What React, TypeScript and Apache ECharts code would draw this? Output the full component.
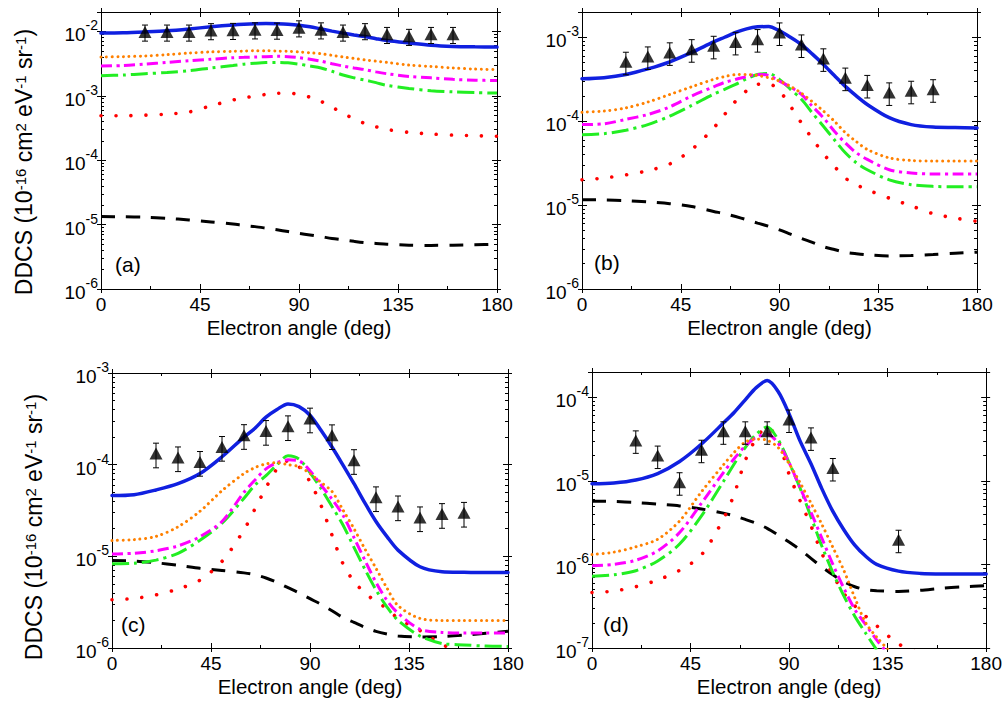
import React, { useEffect, useRef } from 'react';
import * as echarts from 'echarts';

// ---------------- data ----------------
const ANGLES = [0, 10, 20, 30, 40, 50, 60, 65, 70, 75, 80, 85, 90, 95, 100, 105, 110, 115, 120, 125, 130, 140, 150, 160, 170, 180];
const EXP_ANGLES = [20, 30, 40, 50, 60, 70, 80, 90, 100, 110, 120, 130, 140, 150, 160];
const EXP_ANGLES_D = [20, 30, 40, 50, 60, 70, 80, 90, 100, 110, 140];
const X_TICKS = [0, 45, 90, 135, 180];

// panel (a)
const A_SOLID = [9.4e-3, 9.5e-3, 9.8e-3, 1.02e-2, 1.09e-2, 1.18e-2, 1.26e-2, 1.29e-2, 1.31e-2, 1.32e-2, 1.31e-2, 1.29e-2, 1.25e-2, 1.18e-2, 1.09e-2, 1.01e-2, 9.4e-3, 8.8e-3, 8.3e-3, 7.7e-3, 7.2e-3, 6.6e-3, 6.1e-3, 5.85e-3, 5.75e-3, 5.7e-3];
const A_ORANGE = [4.0e-3, 4.05e-3, 4.15e-3, 4.35e-3, 4.6e-3, 4.8e-3, 4.9e-3, 4.95e-3, 5.0e-3, 5.0e-3, 4.95e-3, 4.9e-3, 4.8e-3, 4.65e-3, 4.5e-3, 4.25e-3, 4.0e-3, 3.8e-3, 3.6e-3, 3.45e-3, 3.3e-3, 3.0e-3, 2.85e-3, 2.7e-3, 2.6e-3, 2.55e-3];
const A_MAGENTA = [2.9e-3, 2.95e-3, 3.1e-3, 3.3e-3, 3.5e-3, 3.7e-3, 3.9e-3, 3.95e-3, 4.0e-3, 4.05e-3, 4.1e-3, 4.05e-3, 3.9e-3, 3.7e-3, 3.45e-3, 3.15e-3, 2.9e-3, 2.7e-3, 2.55e-3, 2.35e-3, 2.2e-3, 2.0e-3, 1.9e-3, 1.8e-3, 1.75e-3, 1.72e-3];
const A_GREEN = [2.05e-3, 2.1e-3, 2.2e-3, 2.3e-3, 2.45e-3, 2.7e-3, 2.95e-3, 3.1e-3, 3.2e-3, 3.28e-3, 3.3e-3, 3.25e-3, 3.1e-3, 2.9e-3, 2.7e-3, 2.4e-3, 2.1e-3, 1.9e-3, 1.75e-3, 1.6e-3, 1.45e-3, 1.3e-3, 1.2e-3, 1.15e-3, 1.12e-3, 1.1e-3];
const A_RED = [4.9e-4, 4.9e-4, 5.0e-4, 5.2e-4, 5.6e-4, 7.0e-4, 8.6e-4, 9.3e-4, 9.9e-4, 1.05e-3, 1.09e-3, 1.1e-3, 1.05e-3, 9.5e-4, 8.2e-4, 6.7e-4, 5.3e-4, 4.4e-4, 3.7e-4, 3.3e-4, 3.0e-4, 2.7e-4, 2.55e-4, 2.45e-4, 2.4e-4, 2.35e-4];
const A_BLACK = [1.33e-5, 1.32e-5, 1.3e-5, 1.25e-5, 1.18e-5, 1.1e-5, 1.02e-5, 9.7e-6, 9.3e-6, 8.8e-6, 8.3e-6, 7.8e-6, 7.3e-6, 6.9e-6, 6.5e-6, 6.1e-6, 5.8e-6, 5.5e-6, 5.25e-6, 5.1e-6, 4.95e-6, 4.8e-6, 4.75e-6, 4.8e-6, 4.85e-6, 4.95e-6];
const A_EXP = [9.8e-3, 9.8e-3, 9.8e-3, 1.03e-2, 1.04e-2, 1.06e-2, 1.05e-2, 1.14e-2, 1.06e-2, 9.8e-3, 1.03e-2, 9.0e-3, 8.4e-3, 9.0e-3, 9.0e-3];

// panel (b)
const B_SOLID = [3.2e-4, 3.3e-4, 3.6e-4, 4.2e-4, 5.1e-4, 6.6e-4, 8.8e-4, 1.0e-3, 1.14e-3, 1.26e-3, 1.33e-3, 1.34e-3, 1.19e-3, 1.0e-3, 8.2e-4, 6.3e-4, 4.75e-4, 3.5e-4, 2.6e-4, 2.0e-4, 1.58e-4, 1.1e-4, 9.1e-5, 8.5e-5, 8.4e-5, 8.3e-5];
const B_ORANGE = [1.28e-4, 1.32e-4, 1.44e-4, 1.69e-4, 2.08e-4, 2.57e-4, 3.15e-4, 3.4e-4, 3.58e-4, 3.6e-4, 3.5e-4, 3.3e-4, 3.0e-4, 2.6e-4, 2.15e-4, 1.7e-4, 1.32e-4, 1.0e-4, 7.3e-5, 5.7e-5, 4.6e-5, 3.65e-5, 3.4e-5, 3.35e-5, 3.35e-5, 3.35e-5];
const B_MAGENTA = [9.1e-5, 9.3e-5, 1.05e-4, 1.2e-4, 1.48e-4, 2.0e-4, 2.57e-4, 2.9e-4, 3.15e-4, 3.4e-4, 3.6e-4, 3.5e-4, 3.0e-4, 2.55e-4, 2.08e-4, 1.5e-4, 1.1e-4, 7.6e-5, 5.5e-5, 4.2e-5, 3.5e-5, 2.64e-5, 2.41e-5, 2.35e-5, 2.35e-5, 2.35e-5];
const B_GREEN = [6.9e-5, 7.1e-5, 7.8e-5, 9.1e-5, 1.15e-4, 1.54e-4, 2.1e-4, 2.4e-4, 2.74e-4, 3.2e-4, 3.6e-4, 3.7e-4, 3.15e-4, 2.4e-4, 1.82e-4, 1.25e-4, 8.7e-5, 6.0e-5, 4.2e-5, 3.2e-5, 2.64e-5, 2.0e-5, 1.75e-5, 1.67e-5, 1.65e-5, 1.65e-5];
const B_RED = [2.0e-5, 2.1e-5, 2.29e-5, 2.57e-5, 3.09e-5, 4.6e-5, 8.3e-5, 1.2e-4, 1.73e-4, 2.3e-4, 2.74e-4, 2.8e-4, 2.29e-4, 1.51e-4, 9.5e-5, 6.15e-5, 4.1e-5, 2.9e-5, 2.1e-5, 1.75e-5, 1.52e-5, 1.21e-5, 9.8e-6, 7.9e-6, 7.0e-6, 6.4e-6];
const B_BLACK = [1.16e-5, 1.15e-5, 1.13e-5, 1.09e-5, 1.04e-5, 9.6e-6, 8.4e-6, 7.9e-6, 7.3e-6, 6.7e-6, 6.1e-6, 5.6e-6, 5.07e-6, 4.5e-6, 4.0e-6, 3.6e-6, 3.2e-6, 2.95e-6, 2.74e-6, 2.63e-6, 2.55e-6, 2.48e-6, 2.5e-6, 2.57e-6, 2.67e-6, 2.74e-6];
const B_EXP = [5.1e-4, 5.9e-4, 6.6e-4, 7.2e-4, 7.9e-4, 8.8e-4, 9.5e-4, 1.14e-3, 8.2e-4, 5.6e-4, 3.3e-4, 2.7e-4, 2.2e-4, 2.3e-4, 2.4e-4];

// panel (c)
const C_SOLID = [4.6e-5, 4.7e-5, 5.3e-5, 6.2e-5, 8.0e-5, 1.22e-4, 2.0e-4, 2.5e-4, 3.3e-4, 4.0e-4, 4.6e-4, 4.3e-4, 3.46e-4, 2.37e-4, 1.56e-4, 9.9e-5, 6.2e-5, 3.8e-5, 2.4e-5, 1.64e-5, 1.17e-5, 7.7e-6, 6.8e-6, 6.7e-6, 6.65e-6, 6.65e-6];
const C_ORANGE = [1.49e-5, 1.52e-5, 1.65e-5, 2.1e-5, 3.1e-5, 5.2e-5, 8.0e-5, 9.3e-5, 1.02e-4, 1.05e-4, 1.0e-4, 9.5e-5, 8.0e-5, 6.4e-5, 5.1e-5, 3.2e-5, 2.0e-5, 1.2e-5, 7.4e-6, 4.5e-6, 2.9e-6, 2.1e-6, 2.0e-6, 2.0e-6, 2.0e-6, 2.0e-6];
const C_MAGENTA = [1.06e-5, 1.08e-5, 1.15e-5, 1.3e-5, 1.64e-5, 2.4e-5, 5.0e-5, 6.8e-5, 9.0e-5, 1.05e-4, 1.13e-4, 1.1e-4, 8.6e-5, 6.0e-5, 4.2e-5, 2.8e-5, 1.6e-5, 9.0e-6, 5.2e-6, 3.3e-6, 2.4e-6, 1.6e-6, 1.48e-6, 1.46e-6, 1.46e-6, 1.46e-6];
const C_GREEN = [8.3e-6, 8.4e-6, 9.1e-6, 1.08e-5, 1.5e-5, 2.3e-5, 4.3e-5, 6.0e-5, 7.6e-5, 1.0e-4, 1.25e-4, 1.15e-4, 8.2e-5, 5.5e-5, 3.5e-5, 2.2e-5, 1.25e-5, 7.2e-6, 4.3e-6, 2.8e-6, 2.0e-6, 1.35e-6, 1.12e-6, 1.08e-6, 1.05e-6, 1.04e-6];
const C_RED = [3.36e-6, 3.47e-6, 3.8e-6, 4.4e-6, 5.5e-6, 8.8e-6, 1.94e-5, 3.3e-5, 5.6e-5, 9.0e-5, 1.1e-4, 9.5e-5, 6.5e-5, 3.6e-5, 1.7e-5, 8.3e-6, 5.3e-6, 4.0e-6, 3.2e-6, 2.7e-6, 2.1e-6, 1.55e-6, 1.1e-6, 8.5e-7, 7.5e-7, 7.0e-7];
const C_BLACK = [9.0e-6, 8.9e-6, 8.5e-6, 8.0e-6, 7.4e-6, 7.0e-6, 6.6e-6, 6.3e-6, 5.8e-6, 5.2e-6, 4.55e-6, 4.0e-6, 3.45e-6, 3.0e-6, 2.55e-6, 2.15e-6, 1.9e-6, 1.68e-6, 1.52e-6, 1.42e-6, 1.35e-6, 1.32e-6, 1.33e-6, 1.38e-6, 1.45e-6, 1.52e-6];
const C_EXP = [1.32e-4, 1.2e-4, 1.07e-4, 1.56e-4, 2.1e-4, 2.33e-4, 2.62e-4, 3.18e-4, 2.09e-4, 1.12e-4, 4.4e-5, 3.5e-5, 2.66e-5, 2.89e-5, 2.98e-5];

// panel (d)
const D_SOLID = [9.2e-6, 9.4e-6, 1.02e-5, 1.22e-5, 1.7e-5, 2.75e-5, 4.9e-5, 6.6e-5, 9.3e-5, 1.3e-4, 1.58e-4, 1.17e-4, 6.3e-5, 3.0e-5, 1.6e-5, 8.0e-6, 4.3e-6, 2.6e-6, 1.7e-6, 1.25e-6, 1.0e-6, 8.3e-7, 7.8e-7, 7.7e-7, 7.7e-7, 7.7e-7];
const D_ORANGE = [1.31e-6, 1.4e-6, 1.62e-6, 2.0e-6, 3.3e-6, 7.4e-6, 1.55e-5, 2.2e-5, 2.9e-5, 3.15e-5, 3.05e-5, 2.5e-5, 1.6e-5, 9.5e-6, 5.4e-6, 3.0e-6, 1.6e-6, 8.5e-7, 4.0e-7, 2.0e-7, 1.35e-7, 7e-8, null, null, null, null];
const D_MAGENTA = [9.6e-7, 1.0e-6, 1.12e-6, 1.45e-6, 2.4e-6, 5.4e-6, 1.25e-5, 1.85e-5, 2.6e-5, 3.3e-5, 3.6e-5, 2.8e-5, 1.65e-5, 8.3e-6, 4.2e-6, 2.05e-6, 1.0e-6, 5.2e-7, 2.9e-7, 1.9e-7, 1.25e-7, 6e-8, null, null, null, null];
const D_GREEN = [7.2e-7, 7.5e-7, 8.4e-7, 1.1e-6, 1.75e-6, 3.8e-6, 9.8e-6, 1.6e-5, 2.5e-5, 3.6e-5, 4.4e-5, 3.1e-5, 1.65e-5, 8.2e-6, 3.7e-6, 1.65e-6, 8.0e-7, 4.2e-7, 2.4e-7, 1.5e-7, 9.5e-8, null, null, null, null, null];
const D_RED = [4.6e-7, 4.8e-7, 5.4e-7, 6.5e-7, 8.5e-7, 1.3e-6, 3.5e-6, 7.0e-6, 1.75e-5, 3.2e-5, 4.4e-5, 3.0e-5, 1.2e-5, 5.8e-6, 2.9e-6, 1.35e-6, 7.5e-7, 4.5e-7, 3.2e-7, 2.4e-7, 1.85e-7, 1.12e-7, 8.5e-8, null, null, null];
const D_BLACK = [5.7e-6, 5.65e-6, 5.5e-6, 5.25e-6, 5.0e-6, 4.6e-6, 4.1e-6, 3.8e-6, 3.45e-6, 3.1e-6, 2.7e-6, 2.25e-6, 1.85e-6, 1.5e-6, 1.18e-6, 9.3e-7, 7.5e-7, 6.2e-7, 5.4e-7, 5.0e-7, 4.85e-7, 4.75e-7, 4.9e-7, 5.2e-7, 5.4e-7, 5.55e-7];
const D_EXP = [3.04e-5, 2.0e-5, 9.6e-6, 2.35e-5, 3.9e-5, 3.9e-5, 3.9e-5, 5.4e-5, 3.3e-5, 1.42e-5, 1.97e-6];

// relative experimental uncertainty per panel
const ERR = [0.28, 0.3, 0.3, 0.3];
const Y_RANGES = [[1e-6, 2e-2], [1e-6, 2e-3], [1e-6, 1e-3], [1e-7, 2e-4]];
const PANEL_LABELS = ['(a)', '(b)', '(c)', '(d)'];
const X_TITLE = 'Electron angle (deg)';

// ---------------- styling / layout ----------------
const FONT = 'Arial, "Liberation Sans", Helvetica, sans-serif';
const BLACK = '#000000';
const GRIDS = [
  { left: 101, top: 12, width: 396, height: 277 },
  { left: 582, top: 12, width: 395, height: 277 },
  { left: 112, top: 373, width: 396, height: 275 },
  { left: 592, top: 372, width: 395, height: 276 },
];
const LABEL_POS = [[115, 266], [594, 264], [121, 626], [603, 626]];
const YTITLE_POS = [[21.5, 162], [31.5, 527]];

const PANELS = [
  { solid: A_SOLID, orange: A_ORANGE, magenta: A_MAGENTA, green: A_GREEN, red: A_RED, black: A_BLACK, expX: EXP_ANGLES, exp: A_EXP },
  { solid: B_SOLID, orange: B_ORANGE, magenta: B_MAGENTA, green: B_GREEN, red: B_RED, black: B_BLACK, expX: EXP_ANGLES, exp: B_EXP },
  { solid: C_SOLID, orange: C_ORANGE, magenta: C_MAGENTA, green: C_GREEN, red: C_RED, black: C_BLACK, expX: EXP_ANGLES, exp: C_EXP },
  { solid: D_SOLID, orange: D_ORANGE, magenta: D_MAGENTA, green: D_GREEN, red: D_RED, black: D_BLACK, expX: EXP_ANGLES_D, exp: D_EXP },
];

const tickLine = { color: BLACK, width: 1 };

function makeXAxes(g: number) {
  const base: any = {
    type: 'value', gridIndex: g, min: X_TICKS[0], max: X_TICKS[X_TICKS.length - 1],
    interval: X_TICKS[1] - X_TICKS[0], splitLine: { show: false },
  };
  return [
    {
      ...base, position: 'bottom',
      axisLine: { show: true, onZero: false, lineStyle: tickLine },
      axisTick: { show: true, inside: false, length: 4, lineStyle: tickLine },
      axisLabel: { show: true, color: BLACK, fontSize: 19, fontFamily: FONT, margin: 6 },
      name: X_TITLE, nameLocation: 'middle', nameGap: 28,
      nameTextStyle: { color: BLACK, fontSize: 20.5, fontFamily: FONT },
    },
    {
      ...base, position: 'bottom',
      axisLine: { show: false, onZero: false },
      axisTick: { show: true, inside: true, length: 5, lineStyle: tickLine },
      minorTick: { show: true, splitNumber: 2, length: 3, lineStyle: tickLine },
      axisLabel: { show: false },
    },
    {
      ...base, position: 'top',
      axisLine: { show: true, onZero: false, lineStyle: tickLine },
      axisTick: { show: true, inside: false, length: 4, lineStyle: tickLine },
      axisLabel: { show: false },
    },
    {
      ...base, position: 'top',
      axisLine: { show: false, onZero: false },
      axisTick: { show: true, inside: true, length: 5, lineStyle: tickLine },
      minorTick: { show: true, splitNumber: 2, length: 3, lineStyle: tickLine },
      axisLabel: { show: false },
    },
  ];
}

function powLabel(v: number) {
  const l = Math.log10(v);
  const r = Math.round(l);
  if (Math.abs(l - r) > 1e-6) return '';
  return `{m|10}{s|${r}}`;
}

function makeYAxes(g: number) {
  const [min, max] = Y_RANGES[g];
  const base: any = {
    type: 'log', logBase: 10, gridIndex: g, min, max, splitLine: { show: false },
  };
  return [
    {
      ...base, position: 'left',
      axisLine: { show: true, onZero: false, lineStyle: tickLine },
      axisTick: { show: true, inside: false, length: 4, lineStyle: tickLine },
      axisLabel: {
        show: true, margin: 3, formatter: powLabel,
        color: BLACK, fontSize: 19, fontFamily: FONT,
        rich: {
          m: { fontSize: 19, lineHeight: 26, fontFamily: FONT, color: BLACK, verticalAlign: 'bottom' },
          s: { fontSize: 14, lineHeight: 15, fontFamily: FONT, color: BLACK, verticalAlign: 'top' },
        },
      },
    },
    {
      ...base, position: 'left',
      axisLine: { show: false, onZero: false },
      axisTick: { show: true, inside: true, length: 5, lineStyle: tickLine },
      minorTick: { show: true, splitNumber: 9, length: 3, lineStyle: tickLine },
      axisLabel: { show: false },
    },
    {
      ...base, position: 'right',
      axisLine: { show: true, onZero: false, lineStyle: tickLine },
      axisTick: { show: true, inside: false, length: 4, lineStyle: tickLine },
      axisLabel: { show: false },
    },
    {
      ...base, position: 'right',
      axisLine: { show: false, onZero: false },
      axisTick: { show: true, inside: true, length: 5, lineStyle: tickLine },
      minorTick: { show: true, splitNumber: 9, length: 3, lineStyle: tickLine },
      axisLabel: { show: false },
    },
  ];
}

function lineSeries(g: number, values: (number | null)[], color: string, width: number, type: any, cap: string, z: number) {
  return {
    type: 'line', xAxisIndex: g * 4, yAxisIndex: g * 4,
    data: ANGLES.map((a, i) => [a, values[i]]),
    showSymbol: false, symbol: 'none', smooth: 0.3, clip: true, z,
    lineStyle: { color, width, type, cap },
    silent: true,
  };
}

function buildOption() {
  const series: any[] = [];
  PANELS.forEach((p, g) => {
    series.push(lineSeries(g, p.black, BLACK, 3, [14, 11], 'butt', 2));
    series.push(lineSeries(g, p.red, '#ff0000', 3.6, [0.01, 15], 'round', 2));
    series.push(lineSeries(g, p.green, '#22ee22', 3, [17, 5, 3, 5], 'butt', 2));
    series.push(lineSeries(g, p.magenta, '#ff00ff', 3, [11, 4.5, 3, 4.5], 'butt', 2));
    series.push(lineSeries(g, p.orange, '#ff8000', 3, [0.01, 5.6], 'round', 2));
    series.push(lineSeries(g, p.solid, '#1020e0', 3.5, 'solid', 'round', 3));
    const err = ERR[g];
    series.push({
      type: 'custom', xAxisIndex: g * 4, yAxisIndex: g * 4, z: 5, silent: true,
      data: p.expX.map((x, i) => [x, p.exp[i] * (1 - err), p.exp[i] * (1 + err)]),
      encode: { x: 0, y: [1, 2] },
      renderItem: (params: any, api: any) => {
        const x = api.value(0);
        const lo = api.coord([x, api.value(1)]);
        const hi = api.coord([x, api.value(2)]);
        const w = 3;
        const st = { stroke: BLACK, lineWidth: 1 };
        return {
          type: 'group',
          children: [
            { type: 'line', shape: { x1: lo[0], y1: lo[1], x2: hi[0], y2: hi[1] }, style: st },
            { type: 'line', shape: { x1: hi[0] - w, y1: hi[1], x2: hi[0] + w, y2: hi[1] }, style: st },
            { type: 'line', shape: { x1: lo[0] - w, y1: lo[1], x2: lo[0] + w, y2: lo[1] }, style: st },
          ],
        };
      },
    });
    series.push({
      type: 'scatter', xAxisIndex: g * 4, yAxisIndex: g * 4, z: 6, silent: true,
      data: p.expX.map((x, i) => [x, p.exp[i]]),
      symbol: 'triangle', symbolSize: [13, 12],
      itemStyle: { color: BLACK },
    });
  });

  const graphic: any[] = [];
  PANEL_LABELS.forEach((t, i) => {
    graphic.push({
      type: 'text', left: LABEL_POS[i][0], top: LABEL_POS[i][1] - 12,
      style: { text: t, fontSize: 21, fontFamily: FONT, fill: BLACK },
      silent: true,
    });
  });
  YTITLE_POS.forEach(([x, y]) => {
    graphic.push({
      type: 'text', x, y, rotation: Math.PI / 2, silent: true,
      style: {
        text: 'DDCS (10{s|-16} cm{s|2} eV{s|-1} sr{s|-1})',
        align: 'center', verticalAlign: 'middle',
        fontSize: 23, fontFamily: FONT, fill: BLACK,
        rich: {
          s: { fontSize: 15, lineHeight: 15, fontFamily: FONT, fill: BLACK, verticalAlign: 'top' },
        },
        lineHeight: 23, padding: [5, 0, 0, 0],
      },
    });
  });

  return {
    animation: false,
    backgroundColor: '#ffffff',
    grid: GRIDS.map((gr) => ({ ...gr, containLabel: false })),
    xAxis: [0, 1, 2, 3].flatMap((g) => makeXAxes(g)),
    yAxis: [0, 1, 2, 3].flatMap((g) => makeYAxes(g)),
    series,
    graphic,
  };
}

export default function App() {
  const ref = useRef<HTMLDivElement>(null);
  useEffect(() => {
    if (!ref.current) return;
    const chart = echarts.init(ref.current, undefined, { renderer: 'svg' });
    chart.setOption(buildOption() as any);
    return () => chart.dispose();
  }, []);
  return (
    <div
      ref={ref}
      style={{ position: 'absolute', left: 0, top: 0, width: 1005, height: 706, background: '#fff' }}
    />
  );
}
